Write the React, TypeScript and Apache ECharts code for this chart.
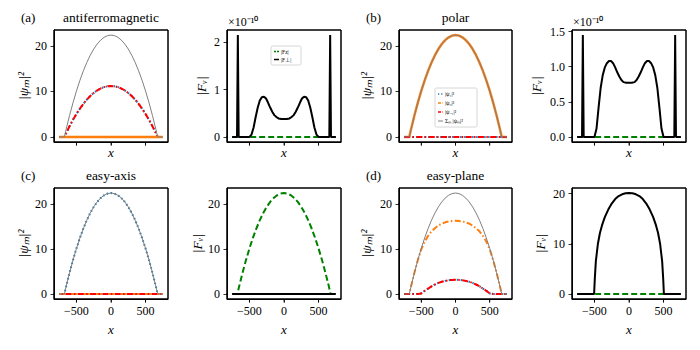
import React, { useEffect, useRef } from 'react';
import * as echarts from 'echarts';

// shared x grid
const X = [-750, -700, -675, -650, -600, -550, -500, -450, -400, -350, -300, -250, -200, -150, -100, -50, 0, 50, 100, 150, 200, 250, 300, 350, 400, 450, 500, 550, 600, 650, 675, 700, 750];
const ZERO = [0, 0, 0, 0, 0, 0, 0, 0, 0, 0, 0, 0, 0, 0, 0, 0, 0, 0, 0, 0, 0, 0, 0, 0, 0, 0, 0, 0, 0, 0, 0, 0, 0];
// total density sum_m |psi_m|^2
const TOTAL = [0, 0, 0, 1.63, 4.7, 7.53, 10.11, 12.44, 14.53, 16.38, 17.98, 19.33, 20.43, 21.29, 21.91, 22.28, 22.4, 22.28, 21.91, 21.29, 20.43, 19.33, 17.98, 16.38, 14.53, 12.44, 10.11, 7.53, 4.7, 1.63, 0, 0, 0];
// antiferromagnetic |psi_{+1}|^2 = |psi_{-1}|^2
const AFM_HALF = [0, 0, 0, 0.82, 2.35, 3.77, 5.06, 6.22, 7.27, 8.19, 8.99, 9.67, 10.22, 10.65, 10.96, 11.14, 11.2, 11.14, 10.96, 10.65, 10.22, 9.67, 8.99, 8.19, 7.27, 6.22, 5.06, 3.77, 2.35, 0.82, 0, 0, 0];
// easy-plane
const EP_PSI1 = [0, 0, 0, 0, 0, 0, 0.12, 0.7, 1.2, 1.7, 2.1, 2.45, 2.7, 2.9, 3.05, 3.12, 3.15, 3.12, 3.05, 2.9, 2.7, 2.45, 2.1, 1.7, 1.2, 0.7, 0.12, 0, 0, 0, 0, 0, 0];
const EP_PSI0 = [0, 0, 0, 1.63, 4.7, 7.53, 9.9, 11.6, 12.9, 13.9, 14.6, 15.2, 15.6, 15.9, 16.1, 16.2, 16.25, 16.2, 16.1, 15.9, 15.6, 15.2, 14.6, 13.9, 12.9, 11.6, 9.9, 7.53, 4.7, 1.63, 0, 0, 0];

// |F_perp| antiferromagnetic (x 1e-10)
const XF_AFM = [-750, -700, -680, -668, -656, -600, -540, -500, -470, -440, -410, -380, -350, -320, -290, -260, -230, -200, -170, -140, -110, -80, -40, 0, 40, 80, 110, 140, 170, 200, 230, 260, 290, 320, 350, 380, 410, 440, 470, 500, 540, 600, 656, 668, 680, 700, 750];
const F_AFM = [0, 0, 0, 2.15, 0, 0, 0, 0, 0.05, 0.2, 0.42, 0.62, 0.77, 0.84, 0.85, 0.81, 0.72, 0.62, 0.53, 0.46, 0.42, 0.39, 0.38, 0.38, 0.38, 0.39, 0.42, 0.46, 0.53, 0.62, 0.72, 0.81, 0.85, 0.84, 0.77, 0.62, 0.42, 0.2, 0.05, 0, 0, 0, 0, 2.15, 0, 0, 0];
// |F_perp| polar (x 1e-10)
const XF_POL = [-750, -700, -680, -668, -656, -600, -540, -500, -470, -440, -410, -380, -350, -320, -290, -260, -230, -200, -170, -140, -110, -80, -40, 0, 40, 80, 110, 140, 170, 200, 230, 260, 290, 320, 350, 380, 410, 440, 470, 500, 540, 600, 656, 668, 680, 700, 750];
const F_POL = [0, 0, 0, 1.45, 0, 0, 0, 0, 0.12, 0.42, 0.7, 0.88, 0.99, 1.05, 1.08, 1.08, 1.05, 0.99, 0.92, 0.86, 0.81, 0.78, 0.77, 0.77, 0.77, 0.78, 0.81, 0.86, 0.92, 0.99, 1.05, 1.08, 1.08, 1.05, 0.99, 0.88, 0.7, 0.42, 0.12, 0, 0, 0, 0, 1.45, 0, 0, 0];
// |F_perp| easy-plane
const XF_EP = [-750, -700, -600, -550, -505, -495, -480, -450, -420, -390, -350, -300, -250, -200, -150, -100, -50, 0, 50, 100, 150, 200, 250, 300, 350, 390, 420, 450, 480, 495, 505, 550, 600, 700, 750];
const F_EP = [0, 0, 0, 0, 0, 3, 6.5, 10, 12.2, 13.7, 15.3, 16.8, 18, 18.9, 19.5, 19.85, 20.05, 20.1, 20.05, 19.85, 19.5, 18.9, 18, 16.8, 15.3, 13.7, 12.2, 10, 6.5, 3, 0, 0, 0, 0, 0];

const X_TICKS = [-500, 0, 500];
const X_MIN = -825;
const X_MAX = 825;
const TITLES = ['antiferromagnetic', 'polar', 'easy-axis', 'easy-plane'];
const LETTERS = ['(a)', '(b)', '(c)', '(d)'];
const PSI_NAME = '|ψₘ|²';
const F_NAME = '|Fᵥ|';
const OFFSET_LABEL = '×10⁻¹⁰';
const LEGEND_F = ['|Fz|', '|F⊥|'];
const LEGEND_PSI = ['|ψ₁|²', '|ψ₀|²', '|ψ₋₁|²', 'Σₘ |ψₘ|²'];

const FONT = 'Liberation Serif';
const BLUE = '#1f77b4';
const ORANGE = '#ff7f0e';
const RED = '#ff0000';
const GRAY = '#808080';
const GREEN = '#008000';
const DOT = [1.5, 2.5];
const DASHDOT = [6, 2.4, 1.5, 2.4];
const DASH = [6, 3];
const TICK_LEN = 3.5;

const GRIDS = [
  { left: 54, top: 30, width: 114, height: 112 },
  { left: 227, top: 30, width: 114, height: 112 },
  { left: 399, top: 30, width: 113, height: 112 },
  { left: 572, top: 30, width: 114, height: 112 },
  { left: 54, top: 188, width: 114, height: 111 },
  { left: 227, top: 188, width: 114, height: 111 },
  { left: 399, top: 188, width: 113, height: 111 },
  { left: 572, top: 188, width: 114, height: 111 },
];

const Y_CFG = [
  { min: -1.12, max: 23.52, ticks: [0, 10, 20], kind: 'psi', gap: 24, dec: 0 },
  { min: -0.1075, max: 2.2575, ticks: [0, 1, 2], kind: 'F', gap: 19, dec: 0 },
  { min: -1.12, max: 23.52, ticks: [0, 10, 20], kind: 'psi', gap: 26, dec: 0 },
  { min: -0.0725, max: 1.5225, ticks: [0, 0.5, 1, 1.5], kind: 'F', gap: 29, dec: 1 },
  { min: -1.12, max: 23.52, ticks: [0, 10, 20], kind: 'psi', gap: 24, dec: 0 },
  { min: -1.12, max: 23.52, ticks: [0, 10, 20], kind: 'F', gap: 22, dec: 0 },
  { min: -1.12, max: 23.52, ticks: [0, 10, 20], kind: 'psi', gap: 26, dec: 0 },
  { min: -1.005, max: 21.105, ticks: [0, 10, 20], kind: 'F', gap: 25, dec: 0 },
];

const pairs = (xs: number[], ys: number[]) => xs.map((x, i) => [x, ys[i]]);

function line(name: string, gi: number, xs: number[], ys: number[], color: string, width: number, type: any, dashOffset = 0) {
  return {
    type: 'line',
    name,
    xAxisIndex: gi,
    yAxisIndex: gi,
    data: pairs(xs, ys),
    showSymbol: false,
    symbol: 'none',
    lineStyle: { color, width, type: Array.isArray(type) ? type.slice() : type, dashOffset },
    itemStyle: { color },
  };
}

// axes frame and outward ticks, drawn in each panel's own data space
function frameSeries(gi: number) {
  const c = Y_CFG[gi];
  const g = GRIDS[gi];
  const dy = ((c.max - c.min) / g.height) * TICK_LEN;
  const dx = ((X_MAX - X_MIN) / g.width) * TICK_LEN;
  const box = [
    [X_MIN, c.min],
    [X_MAX, c.min],
    [X_MAX, c.max],
    [X_MIN, c.max],
    [X_MIN, c.min],
  ];
  const ticks: any[] = [];
  X_TICKS.forEach((v) => {
    ticks.push([v, c.min], [v, c.min - dy], [v, '-']);
  });
  c.ticks.forEach((v) => {
    ticks.push([X_MIN, v], [X_MIN - dx, v], ['-', v]);
  });
  return [
    {
      type: 'line',
      name: 'frame' + gi,
      xAxisIndex: gi,
      yAxisIndex: gi,
      data: box,
      showSymbol: false,
      symbol: 'none',
      clip: false,
      silent: true,
      z: 5,
      lineStyle: { color: '#000', width: 1 },
    },
    {
      type: 'line',
      name: 'ticks' + gi,
      xAxisIndex: gi,
      yAxisIndex: gi,
      data: ticks,
      showSymbol: false,
      symbol: 'none',
      clip: false,
      silent: true,
      connectNulls: false,
      z: 5,
      lineStyle: { color: '#000', width: 0.8 },
    },
  ];
}

function legendBox(x: number, y: number, w: number, h: number, rowY: number[], labels: string[], styles: any[]) {
  const els: any[] = [
    { type: 'rect', shape: { x, y, width: w, height: h, r: 1.5 }, style: { fill: '#fff', stroke: '#cccccc', lineWidth: 0.8 } },
  ];
  labels.forEach((lab, i) => {
    const s = styles[i];
    els.push({
      type: 'line',
      shape: { x1: x + 3, y1: rowY[i], x2: x + 8, y2: rowY[i] },
      style: { stroke: s.color, lineWidth: s.width, lineDash: s.dash ? s.dash.slice() : null },
    });
    els.push({
      type: 'text',
      x: x + 10,
      y: rowY[i],
      style: { text: lab, fontFamily: FONT, fontSize: 5.5, fill: '#000', align: 'left', verticalAlign: 'middle' },
    });
  });
  return els;
}

function buildGraphic() {
  const graphic: any[] = [];
  const titleY = [17, 17, 175, 175];
  const panelIdx = [0, 2, 4, 6];
  panelIdx.forEach((gi, k) => {
    const g = GRIDS[gi];
    graphic.push({
      type: 'text',
      x: g.left + g.width / 2,
      y: titleY[k],
      style: { text: TITLES[k], fontFamily: FONT, fontSize: 13.5, fill: '#000', align: 'center', verticalAlign: 'middle' },
    });
    graphic.push({
      type: 'text',
      x: g.left - 33,
      y: titleY[k],
      style: { text: LETTERS[k], fontFamily: FONT, fontSize: 13, fill: '#000', align: 'left', verticalAlign: 'middle' },
    });
  });
  [1, 3].forEach((gi) => {
    const g = GRIDS[gi];
    graphic.push({
      type: 'text',
      x: g.left + 1,
      y: 22,
      style: { text: OFFSET_LABEL, fontFamily: FONT, fontSize: 12, fill: '#000', align: 'left', verticalAlign: 'middle' },
    });
  });
  graphic.push(
    ...legendBox(271, 46, 30, 19, [51.5, 59.5], LEGEND_F, [
      { color: GREEN, width: 1.5, dash: [2, 1] },
      { color: '#000', width: 1.5 },
    ]),
  );
  graphic.push(
    ...legendBox(435, 88, 42, 39, [94, 103, 112, 121], LEGEND_PSI, [
      { color: BLUE, width: 1.5, dash: [1.2, 2] },
      { color: ORANGE, width: 1.5, dash: [3, 1.5] },
      { color: RED, width: 1.5, dash: [3, 1.5] },
      { color: GRAY, width: 1 },
    ]),
  );
  return graphic;
}

function buildOption() {
  const xAxis = GRIDS.map((_, gi) => ({
    type: 'value',
    gridIndex: gi,
    min: X_MIN,
    max: X_MAX,
    name: 'x',
    nameLocation: 'middle',
    nameGap: gi < 4 ? 4 : 24,
    nameTextStyle: { fontFamily: FONT, fontSize: 13, fontStyle: 'italic', color: '#000' },
    axisLine: { show: true, onZero: false, lineStyle: { color: '#000', width: 1 } },
    splitLine: { show: false },
    axisTick: { show: true, length: TICK_LEN, lineStyle: { color: '#000', width: 0.8 }, customValues: X_TICKS },
    axisLabel: {
      show: gi >= 4,
      customValues: X_TICKS,
      margin: 6,
      fontFamily: FONT,
      fontSize: 12,
      color: '#000',
      formatter: (v: number) => (v < 0 ? '−' + Math.abs(v) : String(v)),
    },
  }));
  const yAxis = GRIDS.map((_, gi) => {
    const c = Y_CFG[gi];
    return {
      type: 'value',
      gridIndex: gi,
      min: c.min,
      max: c.max,
      name: c.kind === 'psi' ? PSI_NAME : F_NAME,
      nameLocation: 'middle',
      nameRotate: 90,
      nameGap: c.gap,
      nameTextStyle: { fontFamily: FONT, fontSize: 13.5, fontStyle: 'italic', color: '#000' },
      axisLine: { show: true, onZero: false, lineStyle: { color: '#000', width: 1 } },
      splitLine: { show: false },
      axisTick: { show: true, length: TICK_LEN, lineStyle: { color: '#000', width: 0.8 }, customValues: c.ticks },
      axisLabel: {
        customValues: c.ticks,
        margin: 7,
        fontFamily: FONT,
        fontSize: 12,
        color: '#000',
        formatter: (v: number) => v.toFixed(c.dec),
      },
    };
  });

  const series: any[] = [
    // (a) antiferromagnetic
    line('a:psi1', 0, X, AFM_HALF, BLUE, 2, DOT),
    line('a:psim1', 0, X, AFM_HALF, RED, 2, DASHDOT),
    line('a:psi0', 0, X, ZERO, ORANGE, 2.5, 'solid'),
    line('a:sum', 0, X, TOTAL, GRAY, 1, 'solid'),
    line('a:Fz', 1, X, ZERO, GREEN, 2, DASH),
    line('a:Fperp', 1, XF_AFM, F_AFM, '#000', 2, 'solid'),
    // (b) polar
    line('b:psi0', 2, X, TOTAL, ORANGE, 2.5, 'solid'),
    line('b:psi1', 2, X, ZERO, BLUE, 2, DOT),
    line('b:psim1', 2, X, ZERO, RED, 2, DASHDOT),
    line('b:sum', 2, X, TOTAL, GRAY, 1, 'solid'),
    line('b:Fz', 3, X, ZERO, GREEN, 2, DASH),
    line('b:Fperp', 3, XF_POL, F_POL, '#000', 2, 'solid'),
    // (c) easy-axis
    line('c:psi1', 4, X, TOTAL, BLUE, 2, DOT),
    line('c:psi0', 4, X, ZERO, ORANGE, 2, DASHDOT),
    line('c:psim1', 4, X, ZERO, RED, 2, DASHDOT, 6),
    line('c:sum', 4, X, TOTAL, GRAY, 1, 'solid'),
    line('c:Fz', 5, X, TOTAL, GREEN, 2, DASH),
    line('c:Fperp', 5, X, ZERO, '#000', 2, 'solid'),
    // (d) easy-plane
    line('d:psi0', 6, X, EP_PSI0, ORANGE, 2, DASHDOT),
    line('d:psi1', 6, X, EP_PSI1, BLUE, 2, DOT),
    line('d:psim1', 6, X, EP_PSI1, RED, 2, DASHDOT),
    line('d:sum', 6, X, TOTAL, GRAY, 1, 'solid'),
    line('d:Fz', 7, X, ZERO, GREEN, 2, DASH),
    line('d:Fperp', 7, XF_EP, F_EP, '#000', 2, 'solid'),
  ];
  GRIDS.forEach((_, gi) => series.push(...frameSeries(gi)));

  return {
    animation: false,
    textStyle: { fontFamily: FONT },
    grid: GRIDS.map((g) => ({ left: g.left, top: g.top, width: g.width, height: g.height, show: true, borderColor: '#000', borderWidth: 1 })),
    xAxis,
    yAxis,
    series,
    graphic: buildGraphic(),
  };
}

export default function App() {
  const ref = useRef<HTMLDivElement>(null);
  useEffect(() => {
    if (!ref.current) return;
    const chart = echarts.init(ref.current, null, { renderer: 'svg' });
    chart.setOption(buildOption() as any);
    return () => chart.dispose();
  }, []);
  return <div ref={ref} style={{ position: 'absolute', left: 0, top: 0, width: 700, height: 350 }} />;
}
